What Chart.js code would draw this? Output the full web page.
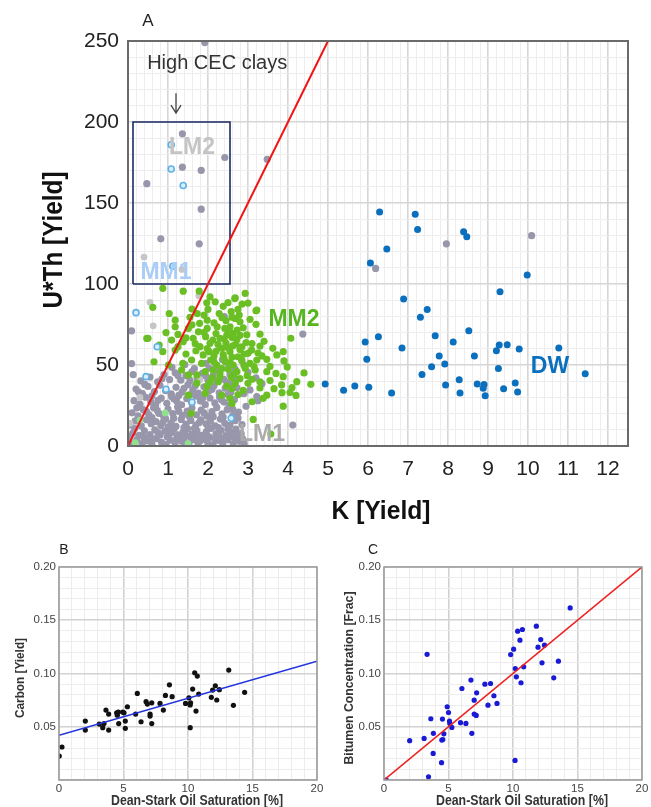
<!DOCTYPE html>
<html>
<head>
<meta charset="utf-8">
<script src="https://cdn.jsdelivr.net/npm/chart.js@4.4.0/dist/chart.umd.min.js"></script>
<style>
  html, body { margin: 0; padding: 0; background: #fff; }
  #wrap { position: relative; width: 651px; height: 807px; overflow: hidden; }
  canvas { position: absolute; }
</style>
</head>
<body>
<div id="wrap">
  <canvas id="cA" width="651" height="540" style="left:0;top:0"></canvas>
  <canvas id="cB" width="330" height="267" style="left:0;top:540px"></canvas>
  <canvas id="cC" width="321" height="267" style="left:330px;top:540px"></canvas>
</div>
<script>
// ---------- Panel A : K vs U*Th (yields) ----------
const lm1Gray = [
  [0.08,2],[0.22,4],[0.35,1.5],[0.48,3.2],[0.6,1],[0.71,4.5],[0.84,2.2],[0.95,0.8],[1.06,3.6],[1.18,1.8],[1.3,4.8],[1.41,2.5],
  [1.52,0.9],[1.63,3.9],[1.75,1.6],[1.88,4.2],[1.99,2.1],[2.12,0.7],[2.24,3.5],[2.37,1.4],[2.5,3.8],[2.63,1.2],[2.78,2.9],[2.9,1.5],
  [0.12,8],[0.28,6.5],[0.41,9.4],[0.55,7.1],[0.67,10],[0.8,6.8],[0.92,9.1],[1.03,7.4],[1.15,10.3],[1.26,6.9],[1.38,8.8],[1.49,10.6],
  [1.6,7.2],[1.72,9.5],[1.84,6.6],[1.96,8.9],[2.08,10.8],[2.2,7.5],[2.33,9.7],[2.45,6.4],[2.58,8.6],[2.7,10.4],[2.83,7.6],
  [0.05,13],[0.18,15.5],[0.33,12.4],[0.46,16.2],[0.58,13.8],[0.7,15],[0.82,12.6],[0.94,16.8],[1.08,14.1],[1.2,12.2],[1.33,16.4],
  [1.45,13.5],[1.57,15.8],[1.7,12.9],[1.82,16.1],[1.95,13.7],[2.06,15.3],[2.18,12.5],[2.31,16.6],[2.42,14],[2.55,12.8],[2.68,15.6],[2.85,13.2],
  [0.1,20.5],[0.25,18.6],[0.38,22.5],[0.52,19.4],[0.64,23.6],[0.77,20.2],[0.89,18.4],[1.0,22.8],[1.12,20],[1.24,24],[1.36,18.9],
  [1.48,21.6],[1.6,23.4],[1.71,19.3],[1.83,22.1],[1.97,18.5],[2.1,21.2],[2.22,23.8],[2.35,19.8],[2.48,22.4],[2.62,18.8],[2.76,21],
  [0.15,28],[0.3,25.8],[0.44,30.1],[0.57,27.2],[0.69,25.2],[0.83,29.5],[0.97,26.4],[1.09,30.6],[1.22,27.6],[1.34,25.4],[1.47,29.2],
  [1.59,26.9],[1.7,30.8],[1.81,27.8],[1.93,25.6],[2.05,29.6],[2.17,26.6],[2.29,30.2],[2.4,27.1],[2.53,25.3],[2.66,28.6],
  [0.2,35.2],[0.36,32.4],[0.5,36.8],[0.66,33.6],[0.8,37.5],[0.94,34.1],[1.08,32.2],[1.2,36.2],[1.35,33.3],[1.5,37.8],[1.62,34.6],
  [1.76,32.6],[1.9,36.5],[2.02,33.9],[2.15,37.2],[2.28,32.8],[2.43,35.7],[2.57,33.1],[2.72,36],[2.88,32.4],[3.05,34.6],
  [0.32,40.2],[0.55,42.6],[0.74,39.6],[0.9,44.1],[1.04,41],[1.18,45.2],[1.32,40.6],[1.45,43.4],[1.6,46],[1.73,41.8],[1.86,44.8],
  [2.0,40.4],[2.13,43.6],[2.27,46.5],[2.4,41.2],[2.55,44.3],[2.7,40.8],
  [1.1,48.5],[1.42,50.2],[1.66,47.8],[1.95,51],[2.2,48.9],[2.36,53.4],[2.52,49.6],[2.68,47.4],[2.85,52.5],[3.0,45.5],[3.2,42],[3.35,38.5],
  [0.03,6],[0.17,10.8],[0.4,5.3],[0.62,4.4],[0.75,8.2],[0.98,5.5],[1.1,8.4],[1.22,5.2],[1.34,2.9],[1.45,6.5],[1.56,5.4],[1.68,5.9],
  [1.8,3.1],[1.92,7.0],[2.03,5.6],[2.16,4.6],[2.28,6.2],[2.41,4.3],[2.53,6.3],[2.66,4.9],[2.73,6.6],[2.86,4.6],[0.22,23.5],[0.46,21.4],
  [0.6,17.5],[0.73,22],[0.87,14.6],[1.0,11.6],[1.14,17.2],[1.27,21.4],[1.4,11.4],[1.53,18.4],[1.66,10.9],[1.78,14.5],[1.9,20.4],
  [2.0,11.7],[2.13,18.1],[2.26,11.3],[2.38,17.9],[2.5,10.5],[2.62,22.6],[2.75,17.2],[0.26,33.5],[0.6,31],[0.75,28.2],[1.15,29],
  [1.27,31.2],[1.4,35.6],[1.55,31.6],[1.68,37.2],[1.87,29.7],[2.1,35],[2.34,28.5],[2.5,31.8],[2.62,38.8],[0.42,38],[0.85,41.5],
  [1.25,43.5],[1.55,40.5],[1.95,43],[2.22,40.2],[2.47,39.2],
  [2.03,48],[2.9,32.4],[0.09,50.9],[0.13,44],[3.25,28],[2.95,24.5],[3.22,30.5],[4.12,12.9],
  [0.09,71.1],[2.41,79.8],[4.37,69.1],[7.96,124.8],[10.09,129.8],[6.19,109.6],[3.48,177],[1.92,249],
  [1.36,192.7],[2.42,178.1],[1.36,172.1],[1.83,170.1],[0.47,161.9],[1.83,146.2],[0.82,127.9],[1.78,124.8]
];
const lightGray = [
  [0.4,116.6],[1.35,109],[0.55,88.7],[0.63,74.2],[1.77,92.7],[0.05,14],[0.3,30],[1.8,41]
];
const mm1Blue = [
  [1.08,186],[1.08,171],[1.38,160.8],[1.12,111],[0.2,82.3],[0.73,61.3],[0.45,42.8],[2.58,17.1],[0.95,35],[1.6,27]
];
const paleGreen = [[0.93,20.4],[0.18,2],[1.5,1.5],[0.3,16]];
const mm2Green = [
  [0.87,97.3],[1.38,95.6],[1.78,95.6],[2.68,91.5],[2.93,94.2],[1.97,88.4],[2.18,89],[0.62,85.6],[1.03,81.8],[1.73,81.8],[2.28,81.8],
  [2.58,82.9],[2.75,84.3],[3.2,83.5],[1.18,77.7],[1.55,79.4],[1.79,75.7],[1.98,77.7],[2.45,77.3],[2.68,78.7],[2.8,76.7],[3.2,75.1],
  [1.18,73.6],[1.51,72.6],[1.76,70.5],[1.98,72.6],[2.23,73.6],[2.55,73.6],[2.73,71.6],[0.5,66.5],[1.09,65.4],[1.38,64.4],[1.63,66.5],
  [1.94,67.5],[2.12,65.4],[2.3,66.5],[2.47,68.5],[2.63,69.5],[2.72,65.8],[4.07,66.5],[0.87,58.2],[1.18,59.2],[1.8,61.3],[2.03,58.2],
  [2.34,60.3],[2.55,58.2],[2.8,59.6],[3.09,59.2],[3.62,60.3],[3.88,58.2],[0.65,52],[1.01,50],[1.37,51],[1.59,53.1],[1.84,51],
  [2.07,53.1],[2.22,50],[2.43,52],[2.63,50],[2.84,53.1],[3.05,51],[3.22,53.1],[3.47,53.5],[3.72,56.2],[1.34,46.9],[1.51,43.9],
  [1.72,43.9],[1.93,45.9],[2.13,46.9],[2.3,44.9],[2.51,47.3],[2.72,45.9],[2.93,48],[3.18,46.9],[3.47,45.9],[3.88,42.8],[4.22,39.7],
  [4.57,38.1],[1.72,38.8],[1.97,36.8],[2.26,39.7],[2.47,37],[2.68,38.8],[2.88,34.3],[3.84,37.7],[1.51,31.4],[1.93,32.5],[2.34,31.4],
  [2.55,29.4],[2.6,26.3],[3.38,29.4],[3.47,31.4],[3.88,24.6],[1.58,20.1],[3.13,16.4],[3.57,7.4],[0.47,66.4],[3.85,32.9],[2.67,91],
  [3.22,83.9],[2.15,55.6],[2.38,56.4],[2.6,54.8],[2.9,56.8],[2.25,62.7],[2.45,63.5],[2.62,61.8],[2.95,63.9],[2.05,63.4],[1.88,56.2],
  [1.7,58.8],[2.75,55.1],[2.98,43.4],[3.1,41.2],[2.8,41.6],[2.58,42.5],[3.3,39.6],[2.1,42.1],[2.35,47.8],[2.97,68.6],[2.88,73],
  [2.6,79.5],[2.38,86.2],[2.52,70.9],[3.4,64.6],[3.3,69],[3.55,49.1],[3.7,44.8],[3.98,48.8],[4.1,36],[4.05,33],[3.65,35.4],
  [3.3,35.8],[3.1,27.3],[2.75,31.8],[1.45,56.8],[1.25,61.3],[0.95,70],[0.78,62.3],[1.6,84.5],[1.9,80.8],[2.05,92],[2.85,87.6],[3.05,78.2],
  [2.2,58.5],[2.5,60.6],[2.7,62.9],[2.85,61.2],[3.0,57.2],[2.4,54.2],[2.15,51.9],[2.55,51.5],[2.9,49.8],[3.15,49],[3.35,55.6],
  [3.3,61.7],[2.4,66.2],[2.2,69.4],[2.6,66.9],[2.8,68.3],[2.42,72.6],[2.15,76],[2.35,79.2],[2.78,80.8],[1.9,70.2],[1.68,63.2],
  [1.98,60.2],[1.45,66.7],[1.25,68.9],[1.6,74.8],[2.0,84.3],[2.5,88.5],[3.0,88.2],[3.1,63.2],[3.25,57.4],[2.65,44.2],[2.3,42.8],
  [3.0,38.7],[2.6,35.5],[2.05,39.4],[3.55,40.4],[3.9,52.5],[4.4,45.1],[4.2,31.2]
];
const dwBlue = [
  [6.29,144.4],[7.18,143],[7.24,133.7],[8.39,132.2],[8.47,129.1],[6.47,121.6],[6.06,113],[9.98,105.5],[9.3,95.2],[6.89,90.7],
  [7.48,84.3],[7.31,79.4],[8.52,71.1],[7.68,68.1],[6.26,67.4],[5.93,64.2],[8.13,64.2],[6.85,60.5],[9.28,62.3],[9.48,62.5],
  [9.21,58.8],[9.78,59.8],[10.77,60.5],[7.78,55.5],[8.66,55.5],[5.97,53.5],[7.92,50.6],[7.59,48.9],[9.26,47.9],[7.35,44.2],
  [11.43,44.6],[8.28,40.9],[4.93,38.3],[5.67,37],[6.02,36.2],[5.39,34.4],[7.94,37.6],[8.73,38.3],[8.9,38],[8.88,35.6],
  [9.68,38.9],[9.39,35.4],[6.59,32.7],[8.3,32.7],[8.93,31],[9.74,33.3]
];
const ratioLine = [[0,0],[5,250]];              // U*Th = 50 K
const cecBox = [[0.125,100],[0.125,200],[2.55,200],[2.55,100],[0.125,100]];
const groupNames = ['LM2','MM1','MM2','DW','LM1'];
const groupAt = [[1.6,184],[0.95,107],[4.15,77.7],[10.55,48.7],[3.35,6.8]];
const cecText = 'High CEC clays';
const cecTextAt = [2.23,236];
const cecArrow = [[1.2,217.8],[1.2,205.5]];

// ---------- Panel B : Carbon vs Dean-Stark ----------
const carbonPts = [
  [0.02,0.0225],[0.23,0.031],[2.04,0.0553],[2.04,0.0469],[3.12,0.0525],[3.49,0.053],[3.39,0.0491],[3.64,0.0657],[3.85,0.0619],
  [3.85,0.0469],[4.47,0.0631],[4.52,0.0609],[4.6,0.0638],[4.63,0.053],[4.94,0.0638],[5.04,0.0631],[5.14,0.0553],[5.14,0.0485],
  [5.3,0.0688],[5.94,0.0619],[6.07,0.0813],[6.36,0.0547],[6.75,0.0735],[6.85,0.0713],[7.06,0.0619],[7.06,0.06],[7.19,0.053],
  [7.19,0.0725],[7.83,0.0719],[8.09,0.0657],[8.25,0.0794],[8.56,0.0894],[8.77,0.0782],[9.81,0.0719],[10.07,0.0772],[10.17,0.0704],
  [10.2,0.0725],[10.17,0.0491],[10.36,0.0854],[10.52,0.1007],[10.72,0.0976],[10.62,0.0647],[10.83,0.0807],[11.81,0.0776],
  [11.91,0.0844],[12.12,0.0885],[12.23,0.0751],[12.43,0.0848],[13.16,0.1032],[13.52,0.0701],[14.39,0.0823]
];
const carbonFit = [[0,0.042],[20,0.1115]];

// ---------- Panel C : Bitumen vs Dean-Stark ----------
const bitumenPts = [
  [0.18,0],[1.99,0.0369],[3.11,0.039],[3.34,0.118],[3.45,0.003],[3.63,0.0575],[3.81,0.025],[3.83,0.0438],[4.46,0.0163],
  [4.48,0.0375],[4.56,0.038],[4.53,0.0572],[4.64,0.0434],[4.9,0.0688],[5.0,0.0634],[5.08,0.0553],[5.1,0.0531],[5.26,0.0494],
  [5.93,0.0538],[6.04,0.0859],[6.35,0.0531],[6.74,0.0938],[6.81,0.0438],[6.99,0.075],[6.99,0.0619],[7.15,0.0606],[7.18,0.0819],
  [7.82,0.09],[8.06,0.0703],[8.26,0.0906],[8.52,0.0791],[8.76,0.0719],[9.82,0.1178],[10.05,0.1228],[10.16,0.0184],[10.18,0.1047],
  [10.26,0.0969],[10.36,0.1397],[10.54,0.1313],[10.62,0.0913],[10.73,0.1413],[10.83,0.1063],[11.81,0.1444],[11.94,0.1247],
  [12.15,0.1319],[12.25,0.11],[12.44,0.1266],[13.16,0.0959],[13.52,0.1116],[14.43,0.1616]
];
const oneToOne = [[0,0],[20,0.2]];

// ------------------------------------------------------------
const xy = arr => arr.map(p => ({ x: p[0], y: p[1] }));
const near = (v, step) => { const r = v / step; return Math.abs(r - Math.round(r)) < 1e-6; };

// outer frame of the plot area
const framePlugin = {
  id: 'frame',
  afterDraw(chart, args, o) {
    const { ctx, chartArea: a } = chart;
    ctx.save();
    ctx.strokeStyle = o.color; ctx.lineWidth = o.width;
    ctx.strokeRect(a.left, a.top, a.right - a.left, a.bottom - a.top);
    ctx.restore();
  }
};

// free text (titles, group names) + arrow
const textPlugin = {
  id: 'texts',
  afterDraw(chart, args, o) {
    const ctx = chart.ctx;
    const sx = chart.scales.x, sy = chart.scales.y;
    for (const t of o.items || []) {
      let px = t.x, py = t.y;
      if (t.data) { px = sx.getPixelForValue(t.x); py = sy.getPixelForValue(t.y); }
      ctx.save();
      ctx.font = t.font; ctx.fillStyle = t.color;
      ctx.textAlign = 'center'; ctx.textBaseline = 'middle';
      ctx.translate(px, py);
      if (t.rotate) ctx.rotate(t.rotate);
      if (t.width) ctx.scale(t.width / ctx.measureText(t.text).width, 1);
      ctx.fillText(t.text, 0, 0);
      ctx.restore();
    }
    if (o.arrow) {
      const x = sx.getPixelForValue(o.arrow[0][0]);
      const y0 = sy.getPixelForValue(o.arrow[0][1]);
      const y1 = sy.getPixelForValue(o.arrow[1][1]);
      ctx.save();
      ctx.strokeStyle = '#444'; ctx.lineWidth = 1.3;
      ctx.beginPath();
      ctx.moveTo(x, y0); ctx.lineTo(x, y1);
      ctx.moveTo(x - 5, y1 - 8); ctx.lineTo(x, y1); ctx.lineTo(x + 5, y1 - 8);
      ctx.stroke();
      ctx.restore();
    }
  }
};

function gridOpts(major, majCol, minCol) {
  return {
    drawTicks: false,
    color: c => (c.tick && near(c.tick.value, major)) ? majCol : minCol,
    lineWidth: c => (c.tick && near(c.tick.value, major)) ? 1.6 : 1
  };
}

function dots(data, color, r, extra) {
  return Object.assign({ data: xy(data), pointRadius: r, pointHoverRadius: r,
    pointBackgroundColor: color, pointBorderWidth: 0, showLine: false }, extra || {});
}
function line(data, color, w, extra) {
  return Object.assign({ data: xy(data), showLine: true, pointRadius: 0, borderColor: color,
    borderWidth: w, fill: false, tension: 0 }, extra || {});
}

const TICK_A = { family: 'Liberation Sans, Arial, sans-serif', size: 21 };

new Chart(document.getElementById('cA'), {
  type: 'scatter',
  data: {
    datasets: [
      line(ratioLine, '#f01414', 2, { order: 0 }),
      line(cecBox, '#1c2c66', 1.6, { order: 1 }),
      dots(dwBlue, '#0a6fbd', 3.5, { order: 2 }),
      dots(mm1Blue, '#d9eefc', 3, { order: 3, pointBorderWidth: 1.6, pointBorderColor: '#5fb2e6' }),
      dots(mm2Green, '#6abf25', 3.6, { order: 4 }),
      dots(paleGreen, '#8fe08f', 3.4, { order: 5 }),
      dots(lightGray, '#c6c6c6', 3.4, { order: 6 }),
      dots(lm1Gray, '#9896aa', 3.6, { order: 7 })
    ]
  },
  options: {
    responsive: false, animation: false, events: [],
    layout: { padding: { left: 0, top: 41, right: 23, bottom: 0 } },
    plugins: {
      legend: { display: false }, tooltip: { enabled: false },
      frame: { color: '#6a6a6a', width: 2 },
      texts: {
        arrow: cecArrow,
        items: [
          { text: 'A', x: 148, y: 21, font: '17px Liberation Sans, Arial', color: '#222' },
          { text: cecText, x: cecTextAt[0], y: cecTextAt[1], data: true, font: '20px Liberation Sans, Arial', color: '#333' },
          { text: groupNames[0], x: groupAt[0][0], y: groupAt[0][1], data: true, font: 'bold 23px Liberation Sans, Arial', color: '#c4c4c4' },
          { text: groupNames[1], x: groupAt[1][0], y: groupAt[1][1], data: true, font: 'bold 23px Liberation Sans, Arial', color: '#a9cdf7' },
          { text: groupNames[2], x: groupAt[2][0], y: groupAt[2][1], data: true, font: 'bold 23px Liberation Sans, Arial', color: '#56b521' },
          { text: groupNames[3], x: groupAt[3][0], y: groupAt[3][1], data: true, font: 'bold 23px Liberation Sans, Arial', color: '#0a6fbd' },
          { text: groupNames[4], x: groupAt[4][0], y: groupAt[4][1], data: true, font: 'bold 23px Liberation Sans, Arial', color: '#ababab' },
          { text: 'U*Th [Yield]', x: 54, y: 240, rotate: -Math.PI / 2, width: 137, font: 'bold 28px Liberation Sans, Arial', color: '#111' },
          { text: 'K [Yield]', x: 381, y: 512, width: 99, font: 'bold 25px Liberation Sans, Arial', color: '#111' }
        ]
      }
    },
    scales: {
      x: {
        type: 'linear', min: 0, max: 12.5,
        afterFit: s => { s.height = 94; },
        border: { display: false },
        grid: gridOpts(1, '#d6d6d6', '#ededed'),
        ticks: { stepSize: 0.2, autoSkip: false, maxRotation: 0, padding: 11, color: '#222', font: TICK_A,
          callback: v => (near(v, 1) && v <= 12) ? String(Math.round(v)) : '' }
      },
      y: {
        type: 'linear', min: 0, max: 250,
        afterFit: s => { s.width = 128; },
        border: { display: false },
        grid: gridOpts(50, '#d6d6d6', '#ededed'),
        ticks: { stepSize: 10, autoSkip: false, padding: 9, color: '#222', font: TICK_A,
          callback: v => near(v, 50) ? String(Math.round(v)) : '' }
      }
    }
  },
  plugins: [framePlugin, textPlugin]
});

// small panels share the same frame
function smallPanel(id, padLeft, padRight, pts, ptColor, fit, fitColor, yTitle, yTitleLen, letter, letterX, xTitleX) {
  const FONT = { family: 'Liberation Sans, Arial, sans-serif', size: 11.5 };
  return new Chart(document.getElementById(id), {
    type: 'scatter',
    data: { datasets: [
      line(fit, fitColor, 1.6, { order: 0 }),
      dots(pts, ptColor, 2.6, { order: 1 })
    ] },
    options: {
      responsive: false, animation: false, events: [],
      layout: { padding: { left: 0, top: 27, right: padRight, bottom: 0 } },
      plugins: {
        legend: { display: false }, tooltip: { enabled: false },
        frame: { color: '#9a9a9a', width: 1.5 },
        texts: { items: [
          { text: letter, x: letterX, y: 10, font: '14px Liberation Sans, Arial', color: '#222' },
          { text: 'Dean-Stark Oil Saturation [%]', x: xTitleX, y: 261, width: 172, font: 'bold 14px Liberation Sans, Arial', color: '#333' },
          { text: yTitle, x: padLeft === 59 ? 20 : 19, y: 138, rotate: -Math.PI / 2, width: yTitleLen, font: 'bold 13px Liberation Sans, Arial', color: '#333' }
        ] }
      },
      scales: {
        x: {
          type: 'linear', min: 0, max: 20,
          afterFit: s => { s.height = 27; },
          border: { display: false },
          grid: gridOpts(5, '#d2d2d2', '#ececec'),
          ticks: { stepSize: 1, autoSkip: false, maxRotation: 0, padding: 2, color: '#444', font: FONT,
            callback: v => near(v, 5) ? String(Math.round(v)) : '' }
        },
        y: {
          type: 'linear', min: 0, max: 0.2,
          afterFit: s => { s.width = padLeft; },
          border: { display: false },
          grid: gridOpts(0.05, '#d2d2d2', '#ececec'),
          ticks: { stepSize: 0.01, autoSkip: false, padding: 3, color: '#444', font: FONT,
            callback: v => (near(v, 0.05) && v > 0.001) ? v.toFixed(2) : '' }
        }
      }
    },
    plugins: [framePlugin, textPlugin]
  });
}

smallPanel('cB', 59, 13, carbonPts, '#111111', carbonFit, '#2233dd', 'Carbon [Yield]', 80, 'B', 64, 197);
smallPanel('cC', 54, 9, bitumenPts, '#1a1ad6', oneToOne, '#ee2222', 'Bitumen Concentration [Frac]', 173, 'C', 43, 192);
</script>
</body>
</html>
